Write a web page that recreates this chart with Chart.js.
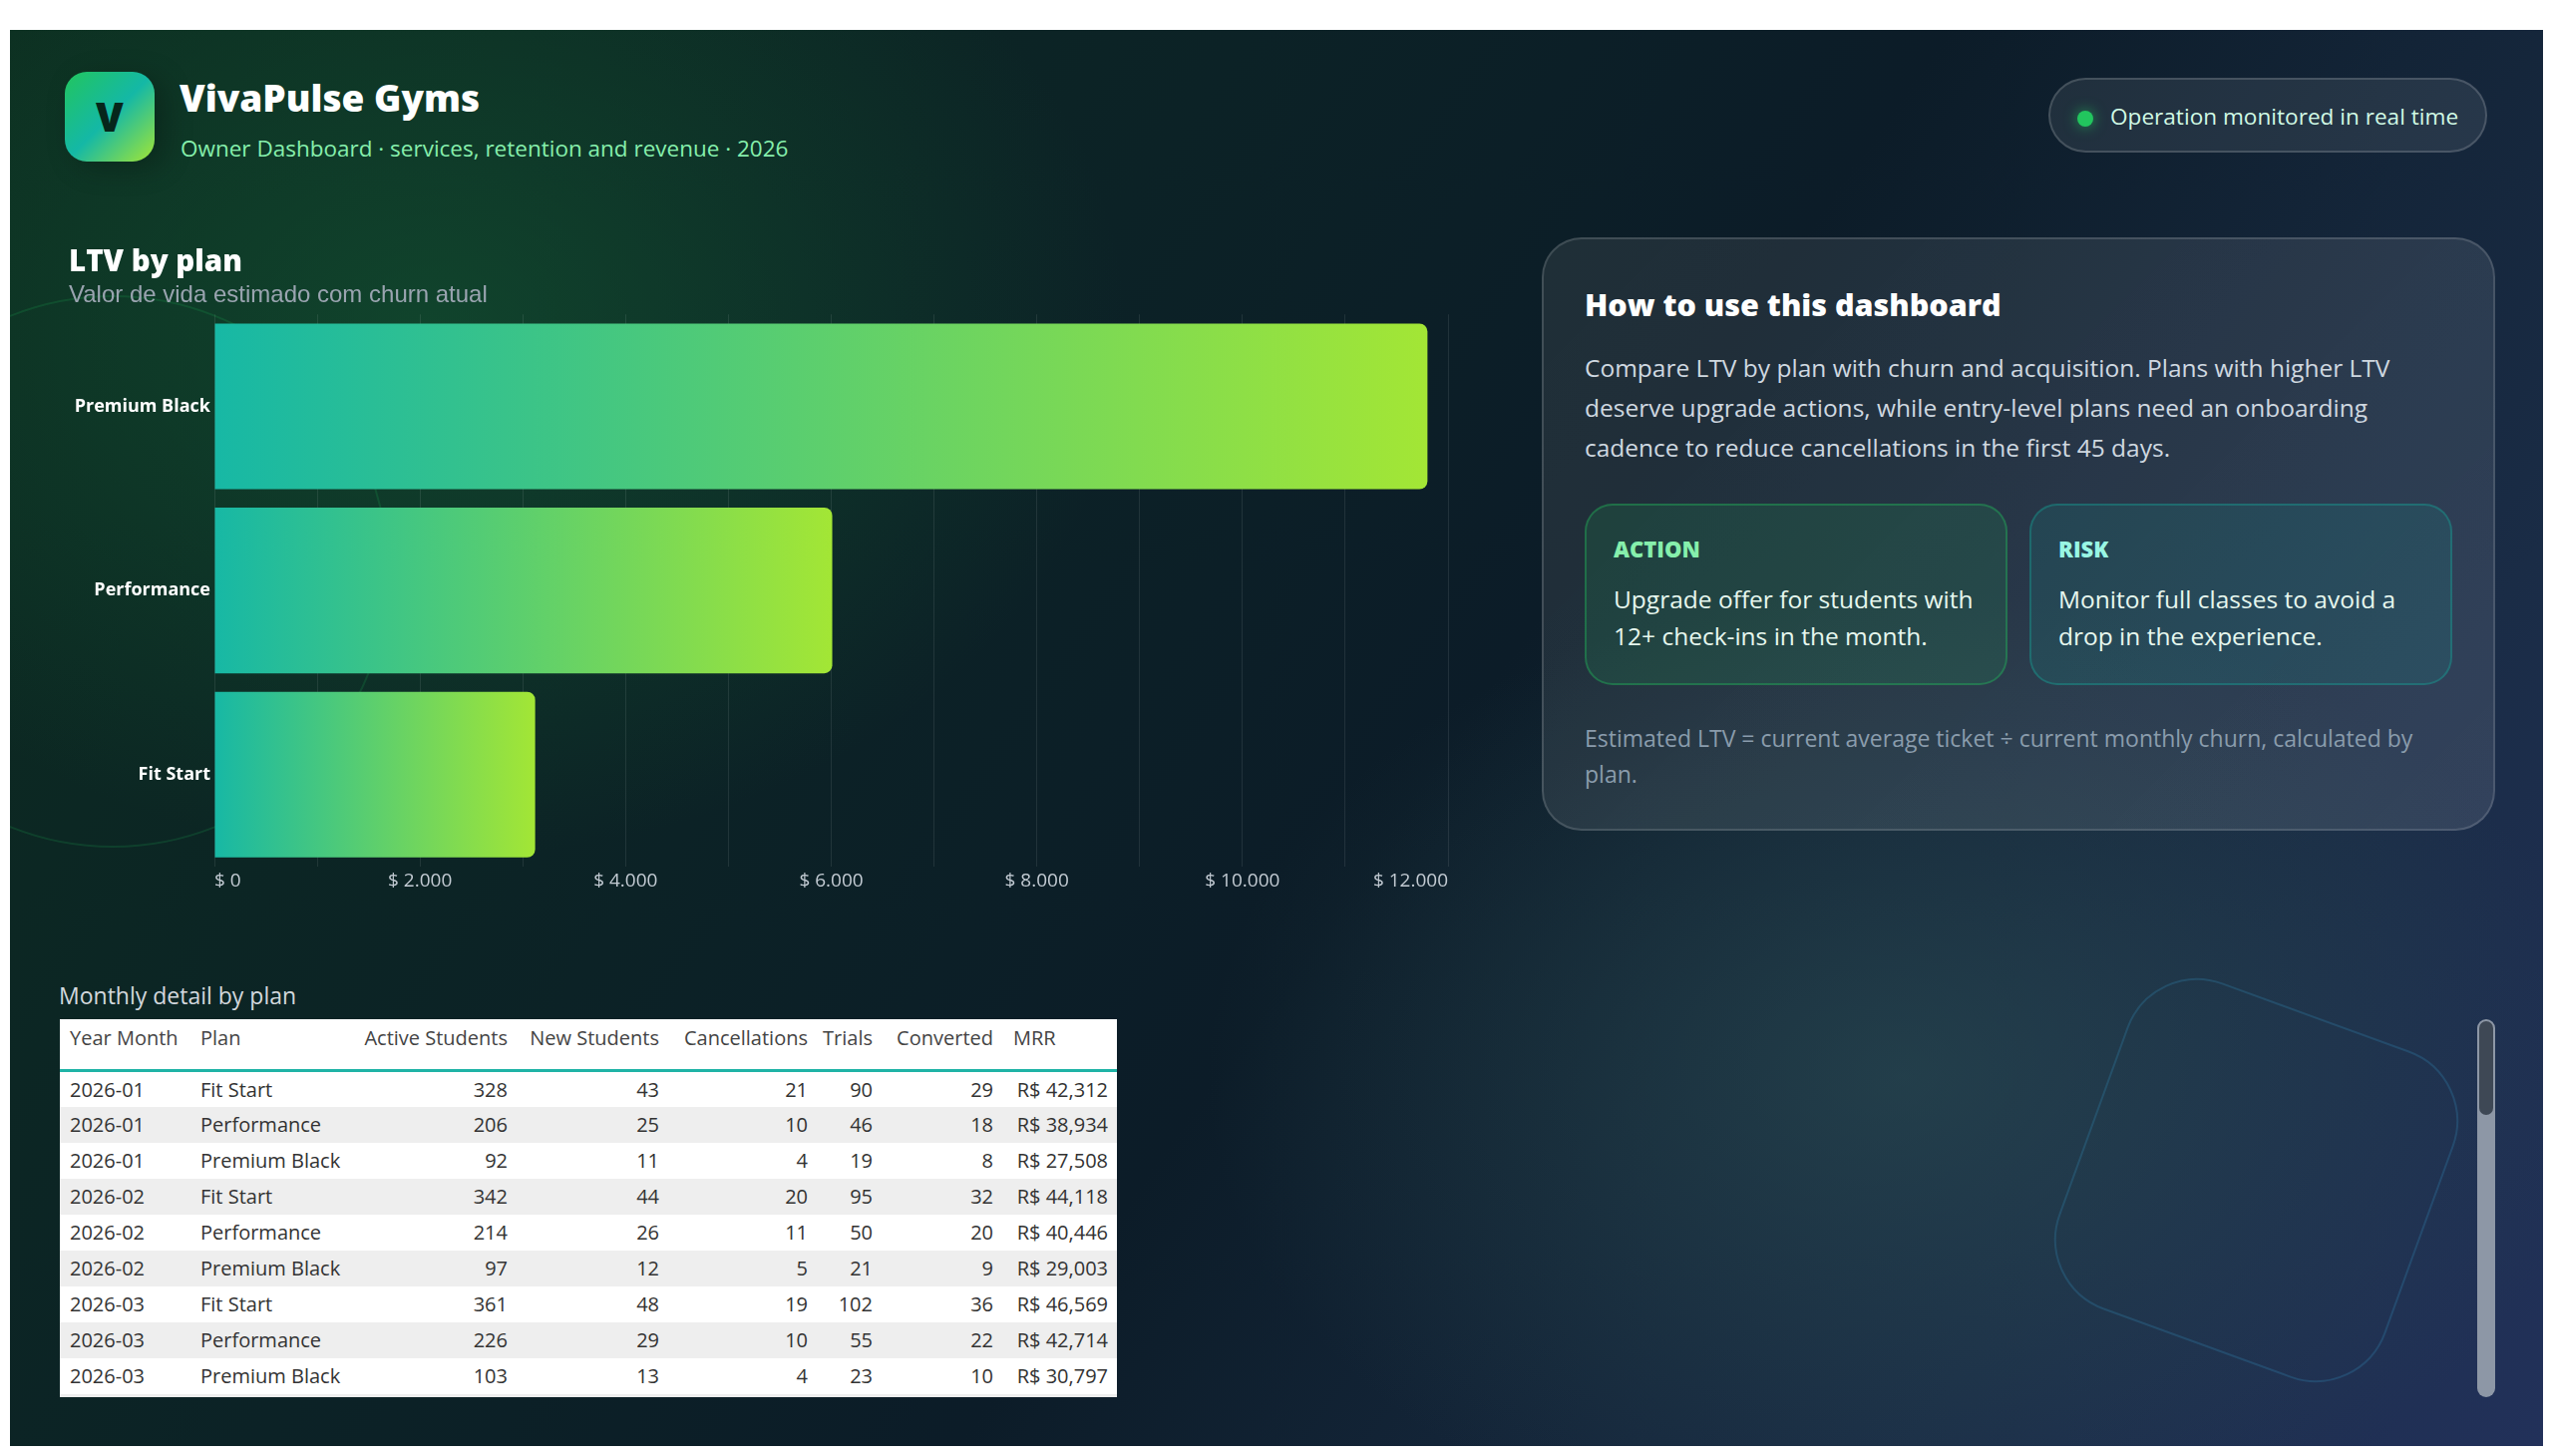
<!DOCTYPE html>
<html>
<head>
<meta charset="utf-8">
<title>VivaPulse Gyms - LTV by plan</title>
<script src="https://cdn.jsdelivr.net/npm/chart.js@4.4.1/dist/chart.umd.min.js"></script>
<style>
  html, body { margin: 0; padding: 0; background: #fff; }
  body { width: 2560px; height: 1460px; position: relative; overflow: hidden; font-family: "Open Sans", "Noto Sans", sans-serif; }
  .panel {
    position: absolute; left: 10px; top: 30px; width: 2540px; height: 1420px; overflow: hidden;
    background:
      radial-gradient(ellipse 1000px 760px at 420px 300px, rgba(20, 92, 52, 0.55), rgba(20, 92, 52, 0) 70%),
      radial-gradient(ellipse 1000px 700px at 1900px 1050px, rgba(50, 90, 90, 0.45), rgba(50, 90, 90, 0) 70%),
      linear-gradient(125deg, #0c2c20 0%, #0c2226 35%, #0c1c28 55%, #1a2c46 82%, #22315a 100%);
  }
  .abs { position: absolute; }
  .circle { left: -174px; top: 266px; width: 550px; height: 550px; border-radius: 50%; border: 2px solid rgba(34, 197, 94, 0.16); }
  .shape { left: 2078px; top: 979px; width: 345px; height: 345px; border-radius: 75px; border: 2px solid rgba(56, 160, 210, 0.22); transform: rotate(20deg); }
  .logo {
    left: 55px; top: 42px; width: 90px; height: 90px; border-radius: 22px;
    background: linear-gradient(135deg, #22c55e 0%, #14b8a6 50%, #a3e635 100%);
    box-shadow: 10px 6px 28px rgba(0, 0, 0, 0.25);
    color: #06261b; font-weight: 800; font-size: 40px; line-height: 90px; text-align: center;
  }
  .brand { left: 170px; top: 45px; font-size: 37px; line-height: 46px; font-weight: 800; color: #fff; white-space: nowrap; }
  .tagline { left: 171px; top: 104px; font-size: 22.5px; line-height: 30px; color: #86efac; white-space: nowrap; }
  .pill {
    left: 2044px; top: 48px; width: 440px; height: 75px; box-sizing: border-box; border-radius: 38px;
    background: rgba(255, 255, 255, 0.08); border: 2px solid rgba(255, 255, 255, 0.16);
  }
  .pill .dot { left: 27px; top: 31px; width: 16px; height: 16px; border-radius: 50%; background: #22c55e; box-shadow: 0 0 14px rgba(34, 197, 94, 0.7); }
  .pill .txt { left: 60px; top: 22px; font-size: 22.6px; line-height: 30px; color: #d1fae5; white-space: nowrap; }
  .chartbox { left: 59px; top: 210px; width: 1391px; height: 665px; }
  .card {
    left: 1536px; top: 208px; width: 956px; height: 595px; box-sizing: border-box; border-radius: 40px;
    background: linear-gradient(135deg, rgba(255, 255, 255, 0.08), rgba(255, 255, 255, 0.1));
    border: 2px solid rgba(255, 255, 255, 0.14);
  }
  .card h2 { position: absolute; margin: 0; left: 41px; top: 46px; font-size: 30.5px; line-height: 38px; font-weight: 800; color: #fff; white-space: nowrap; }
  .card .body { left: 41px; top: 109px; font-size: 24.5px; line-height: 40px; color: #cfd8e0; white-space: nowrap; }
  .box { top: 265px; width: 424px; height: 182px; box-sizing: border-box; border-radius: 28px; }
  .box.action { left: 41px; background: rgba(34, 197, 94, 0.13); border: 2px solid rgba(34, 197, 94, 0.35); }
  .box.risk { left: 487px; background: rgba(20, 184, 166, 0.12); border: 2px solid rgba(20, 184, 166, 0.32); }
  .box .lbl { left: 27px; top: 28px; font-size: 22px; line-height: 30px; font-weight: 800; white-space: nowrap; }
  .box.action .lbl { color: #86efac; }
  .box.risk .lbl { color: #99f6e4; }
  .box .txt { left: 27px; top: 75px; font-size: 24.5px; line-height: 37px; color: #e6f7ee; white-space: nowrap; }
  .card .note { left: 41px; top: 482px; font-size: 23px; line-height: 36px; color: #8a9cac; white-space: nowrap; }
  .ttitle { left: 49px; top: 953px; font-size: 23px; line-height: 30px; color: #d3d8dd; white-space: nowrap; }
  .tablewrap { left: 50px; top: 992px; width: 1060px; height: 379px; overflow: hidden; background: #eeeeee; }
  table { border-collapse: collapse; table-layout: fixed; width: 1060px; font-size: 20px; color: #333; }
  th { font-weight: normal; color: #444; height: 45px; vertical-align: top; padding: 5px 6px 0 6px; background: #fff; border-bottom: 3px solid #1fb3a6; text-align: right; white-space: nowrap; }
  td { height: 36px; padding: 0 6px; text-align: right; white-space: nowrap; box-sizing: border-box; }
  th.l, td.l { text-align: left; }
  th.first, td.first { padding-left: 10px; }
  td.mrr { padding-right: 9px; }
  th.mrr { text-align: left; padding-left: 14px; }
  tbody tr:nth-child(odd) td { background: #fff; }
  tbody tr:nth-child(even) td { background: #eeeeee; }
  .scroll { left: 2474px; top: 992px; width: 18px; height: 379px; border-radius: 9px; background: #8d97a6; }
  .scroll .thumb { left: 2px; top: 2px; width: 14px; height: 94px; border-radius: 7px; background: #3e4855; }
</style>
</head>
<body>
<div class="panel">
  <div class="abs circle"></div>
  <div class="abs shape"></div>

  <div class="abs logo">V</div>
  <div class="abs brand">VivaPulse Gyms</div>
  <div class="abs tagline">Owner Dashboard · services, retention and revenue · 2026</div>

  <div class="abs pill">
    <div class="abs dot"></div>
    <div class="abs txt">Operation monitored in real time</div>
  </div>

  <div class="abs chartbox"><canvas id="ltvChart"></canvas></div>

  <div class="abs card">
    <h2>How to use this dashboard</h2>
    <div class="abs body">Compare LTV by plan with churn and acquisition. Plans with higher LTV<br>deserve upgrade actions, while entry-level plans need an onboarding<br>cadence to reduce cancellations in the first 45 days.</div>
    <div class="abs box action">
      <div class="abs lbl">ACTION</div>
      <div class="abs txt">Upgrade offer for students with<br>12+ check-ins in the month.</div>
    </div>
    <div class="abs box risk">
      <div class="abs lbl">RISK</div>
      <div class="abs txt">Monitor full classes to avoid a<br>drop in the experience.</div>
    </div>
    <div class="abs note">Estimated LTV = current average ticket ÷ current monthly churn, calculated by<br>plan.</div>
  </div>

  <div class="abs ttitle">Monthly detail by plan</div>
  <div class="abs tablewrap">
    <table id="detail">
      <colgroup>
        <col style="width:135px"><col style="width:161px"><col style="width:159px"><col style="width:152px">
        <col style="width:149px"><col style="width:65px"><col style="width:121px"><col style="width:118px">
      </colgroup>
      <thead>
        <tr>
          <th class="l first">Year Month</th><th class="l">Plan</th><th>Active Students</th><th>New Students</th>
          <th>Cancellations</th><th>Trials</th><th>Converted</th><th class="mrr">MRR</th>
        </tr>
      </thead>
      <tbody></tbody>
    </table>
  </div>
  <div class="abs scroll"><div class="abs thumb"></div></div>
</div>

<script>
// LTV chart data
const plans = ['Premium Black', 'Performance', 'Fit Start'];
const ltvValues = [11800, 6010, 3120];
const tickLabels = ['$ 0', '$ 2.000', '$ 4.000', '$ 6.000', '$ 8.000', '$ 10.000', '$ 12.000'];

// table data
const yearMonths = ['2026-01', '2026-01', '2026-01', '2026-02', '2026-02', '2026-02', '2026-03', '2026-03', '2026-03'];
const rowPlans = ['Fit Start', 'Performance', 'Premium Black', 'Fit Start', 'Performance', 'Premium Black', 'Fit Start', 'Performance', 'Premium Black'];
const activeStudents = [328, 206, 92, 342, 214, 97, 361, 226, 103];
const newStudents = [43, 25, 11, 44, 26, 12, 48, 29, 13];
const cancellations = [21, 10, 4, 20, 11, 5, 19, 10, 4];
const trials = [90, 46, 19, 95, 50, 21, 102, 55, 23];
const converted = [29, 18, 8, 32, 20, 9, 36, 22, 10];
const mrr = [42312, 38934, 27508, 44118, 40446, 29003, 46569, 42714, 30797];

// fill the table
const tbody = document.querySelector('#detail tbody');
yearMonths.forEach((ym, i) => {
  const tr = document.createElement('tr');
  tr.innerHTML =
    '<td class="l first">' + ym + '</td>' +
    '<td class="l">' + rowPlans[i] + '</td>' +
    '<td>' + activeStudents[i] + '</td>' +
    '<td>' + newStudents[i] + '</td>' +
    '<td>' + cancellations[i] + '</td>' +
    '<td>' + trials[i] + '</td>' +
    '<td>' + converted[i] + '</td>' +
    '<td class="mrr">R$ ' + mrr[i].toLocaleString('en-US') + '</td>';
  tbody.appendChild(tr);
});

// bar gradient, one per bar, from the axis start to the bar end
function barGradient(ctx) {
  const chart = ctx.chart;
  if (!chart.chartArea || ctx.type !== 'data') return '#17b8a5';
  const x = chart.scales.x;
  const x0 = x.getPixelForValue(0);
  const x1 = x.getPixelForValue(ctx.raw);
  const g = chart.ctx.createLinearGradient(x0, 0, x1, 0);
  g.addColorStop(0, '#17b8a5');
  g.addColorStop(1, '#a3e635');
  return g;
}

const ltvCtx = document.getElementById('ltvChart').getContext('2d');
const ltvChart = new Chart(ltvCtx, {
  type: 'bar',
  data: {
    labels: plans,
    datasets: [{
      label: 'LTV',
      data: ltvValues,
      backgroundColor: barGradient,
      borderRadius: 8,
      borderSkipped: 'start',
      barPercentage: 0.9,
      categoryPercentage: 1.0
    }]
  },
  options: {
    indexAxis: 'y',
    responsive: true,
    maintainAspectRatio: false,
    animation: false,
    layout: { padding: { left: 0, right: 8, top: 0, bottom: 0 } },
    scales: {
      x: {
        min: 0,
        max: 12000,
        grid: { color: 'rgba(255,255,255,0.09)', drawTicks: false },
        border: { display: false },
        afterFit: (axis) => { axis.height = 36; },
        ticks: {
          stepSize: 1000,
          autoSkip: false,
          maxRotation: 0,
          align: 'inner',
          padding: 3,
          color: '#c3cbd3',
          font: { family: 'Open Sans', size: 19 },
          callback: (v, i) => (i % 2 === 0 ? tickLabels[i / 2] : '')
        }
      },
      y: {
        grid: { display: false, drawTicks: false },
        border: { display: false },
        afterFit: (axis) => { axis.width = 146; },
        ticks: {
          color: '#ffffff',
          padding: 4,
          font: { family: 'Open Sans', size: 18, weight: 'bold' }
        }
      }
    },
    plugins: {
      legend: { display: false },
      tooltip: { enabled: false },
      title: {
        display: true,
        text: 'LTV by plan',
        align: 'start',
        color: '#ffffff',
        font: { family: 'Open Sans', size: 29.5, weight: '800' },
        padding: { top: 6, bottom: 1 }
      },
      subtitle: {
        display: true,
        text: 'Valor de vida estimado com churn atual',
        align: 'start',
        color: '#9aa4b0',
        font: { family: 'Liberation Sans', size: 24 },
        padding: { top: 0, bottom: 4 }
      }
    }
  }
});
</script>
</body>
</html>
